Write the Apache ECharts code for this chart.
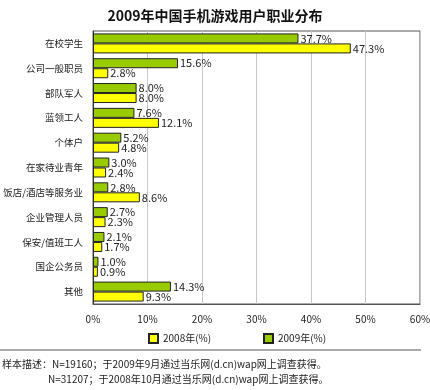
<!DOCTYPE html>
<html><head><meta charset="utf-8">
<script src="https://cdn.jsdelivr.net/npm/echarts@6/dist/echarts.min.js"></script>
<style>html,body{margin:0;padding:0;background:#fff}#c{width:430px;height:390px}</style>
</head><body><div id="c"></div>
<script>
var categories = ['在校学生','公司一般职员','部队军人','蓝领工人','个体户','在家待业青年','饭店/酒店等服务业','企业管理人员','保安/值班工人','国企公务员','其他'];
var values2009 = [37.7, 15.6, 8.0, 7.6, 5.2, 3.0, 2.8, 2.7, 2.1, 1.0, 14.3];
var values2008 = [47.3, 2.8, 8.0, 12.1, 4.8, 2.4, 8.6, 2.3, 1.7, 0.9, 9.3];
var xTicks = [0, 10, 20, 30, 40, 50, 60];
var titleText = '2009年中国手机游戏用户职业分布';
var notes = ['样本描述：N=19160；于2009年9月通过当乐网(d.cn)wap网上调查获得。', 'N=31207；于2008年10月通过当乐网(d.cn)wap网上调查获得。'];

var font = '"Noto Sans CJK SC", sans-serif';
var chart = echarts.init(document.getElementById('c'));
var lbl = {show:true, position:'right', distance:2, color:'#222', fontSize:11, fontFamily:font,
  formatter:function(p){return p.value.toFixed(1)+'%';}};
chart.setOption({
  animation:false,
  title:{text:titleText, left:'center', top:4, textStyle:{fontSize:14, fontWeight:'bold', color:'#111', fontFamily:font}},
  legend:[
    {data:['2008年(%)'], left:143, top:328, itemWidth:9, itemHeight:9, itemGap:4, icon:'rect',
     textStyle:{fontSize:10, color:'#222', fontFamily:font}},
    {data:['2009年(%)'], left:258, top:328, itemWidth:9, itemHeight:9, itemGap:4, icon:'rect',
     textStyle:{fontSize:10, color:'#222', fontFamily:font}}
  ],
  grid:{left:93, right:10, top:31, bottom:86, containLabel:false, outerBoundsMode:'none',
    show:true, borderColor:'#555', borderWidth:1},
  xAxis:{type:'value', min:xTicks[0], max:xTicks[xTicks.length-1], interval:10,
    axisLine:{show:true, lineStyle:{color:'#555'}}, axisTick:{show:false},
    axisLabel:{formatter:'{value}%', color:'#222', fontSize:10, fontFamily:font, margin:10},
    splitLine:{lineStyle:{color:'#c8c8c8'}}},
  yAxis:{type:'category', data:categories, inverse:true,
    axisLine:{lineStyle:{color:'#333'}}, axisTick:{show:false},
    axisLabel:{color:'#222', fontSize:9.5, fontFamily:font, margin:10}},
  series:[
    {name:'2009年(%)', type:'bar', data:values2009, barWidth:10, barGap:'0%',
     itemStyle:{color:'#99cc00', borderColor:'#222', borderWidth:1}, label:lbl},
    {name:'2008年(%)', type:'bar', data:values2008, barWidth:10, barGap:'0%',
     itemStyle:{color:'#ffff00', borderColor:'#222', borderWidth:1}, label:lbl}
  ],
  graphic:[
    {type:'line', shape:{x1:0, y1:350, x2:421, y2:350}, style:{stroke:'#555', lineWidth:1}},
    {type:'text', left:2, top:359, style:{text:notes[0], fontSize:10, fill:'#222', fontFamily:font}},
    {type:'text', left:48, top:374, style:{text:notes[1], fontSize:10, fill:'#222', fontFamily:font}}
  ]
});
</script></body></html>
